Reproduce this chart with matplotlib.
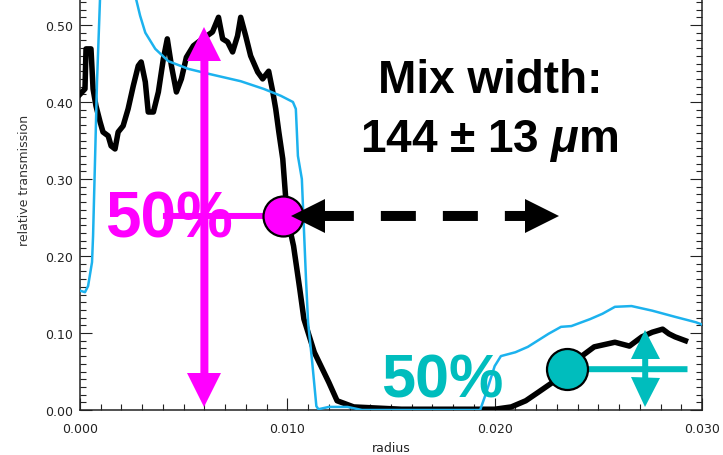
import numpy as np
import matplotlib as mpl
import matplotlib.pyplot as plt
from matplotlib import transforms as mtransforms

mpl.rcParams.update(
    {
        "font.family": "DejaVu Sans",
        "mathtext.fontset": "custom",
        "mathtext.it": "Liberation Sans:italic:bold",
        "mathtext.rm": "Liberation Sans:bold",
        "mathtext.bf": "Liberation Sans:bold",
    }
)

# ---------------------------------------------------------------------------
# Data
# ---------------------------------------------------------------------------
# measured profile (thick black)
black_r = [0.0000, 0.00024, 0.00029, 0.00053, 0.00063, 0.00077, 0.00097, 0.00111,
           0.00136, 0.00150, 0.00169, 0.00184, 0.00208, 0.00232, 0.00257, 0.00281,
           0.00295, 0.00315, 0.00329, 0.00354, 0.00378, 0.00402, 0.00421, 0.00441,
           0.00465, 0.00489, 0.00513, 0.00547, 0.00581, 0.00639, 0.00668, 0.00688,
           0.00712, 0.00736, 0.00760, 0.00775, 0.00799, 0.00823, 0.00857, 0.00881,
           0.00910, 0.00930, 0.00944, 0.00959, 0.00978, 0.0099, 0.0100, 0.0103,
           0.0106, 0.0108, 0.0113, 0.0120, 0.0124, 0.0132, 0.0155, 0.0200,
           0.0208, 0.0215, 0.0221, 0.0228, 0.0235, 0.0242, 0.0248, 0.0258,
           0.0265, 0.0271, 0.0276, 0.0281, 0.0284, 0.0287, 0.0292]
black_t = [0.410, 0.417, 0.469, 0.469, 0.417, 0.395, 0.374, 0.361,
           0.356, 0.343, 0.339, 0.361, 0.369, 0.391, 0.421, 0.447,
           0.452, 0.426, 0.387, 0.387, 0.413, 0.456, 0.482, 0.447,
           0.413, 0.430, 0.458, 0.473, 0.480, 0.491, 0.510, 0.482,
           0.478, 0.465, 0.486, 0.510, 0.486, 0.460, 0.439, 0.430,
           0.440, 0.413, 0.391, 0.361, 0.326, 0.283, 0.250, 0.213,
           0.157, 0.118, 0.075, 0.036, 0.012, 0.004, 0.001, 0.001,
           0.004, 0.012, 0.023, 0.036, 0.053, 0.070, 0.082, 0.088,
           0.083, 0.095, 0.101, 0.105, 0.099, 0.095, 0.090]

# model profile (thin blue)
cyan_r = [0.0000, 0.00024, 0.00039, 0.00058, 0.00063, 0.00073, 0.00082, 0.00092,
          0.0010, 0.0012, 0.0022, 0.0029, 0.00315, 0.00363, 0.00426, 0.00523,
          0.0063, 0.00775, 0.00886, 0.00969, 0.01027, 0.01041, 0.01046, 0.01051,
          0.0107, 0.0108, 0.0109, 0.0110, 0.0112, 0.0114, 0.0115, 0.0120,
          0.0129, 0.0136, 0.0193, 0.0196, 0.0200, 0.0203, 0.0210, 0.0216,
          0.0226, 0.0232, 0.0237, 0.0246, 0.0252, 0.0258, 0.0266, 0.0276,
          0.0287, 0.0297, 0.0301]
cyan_t = [0.155, 0.153, 0.161, 0.192, 0.226, 0.330, 0.426, 0.500,
          0.560, 0.590, 0.590, 0.512, 0.490, 0.469, 0.453, 0.443,
          0.436, 0.427, 0.417, 0.408, 0.400, 0.391, 0.361, 0.330,
          0.300, 0.235, 0.170, 0.114, 0.062, 0.005, 0.001, 0.004,
          0.004, 0.000, 0.000, 0.023, 0.057, 0.070, 0.075, 0.082,
          0.099, 0.108, 0.109, 0.118, 0.125, 0.134, 0.135, 0.129,
          0.121, 0.114, 0.110]

x_ticks = [0.000, 0.010, 0.020, 0.030]
y_ticks = [0.00, 0.10, 0.20, 0.30, 0.40, 0.50]

# annotation anchors (data coords)
inner_50 = (0.00978, 0.252)     # 50% point on the inner edge
outer_50 = (0.02349, 0.053)     # 50% point on the outer edge
inner_span = (0.0060, 0.004, 0.497)
outer_span = (0.02726, 0.004, 0.105)
width_arrow = (0.01017, 0.0231)

MAGENTA = "#ff00ff"
TEAL = "#00bdbd"
SKY = "#1cb2ee"
PX = 72 / 100  # points per pixel

# ---------------------------------------------------------------------------
# Plot
# ---------------------------------------------------------------------------
fig = plt.figure(figsize=(7.23, 4.56), dpi=100)
ax = fig.add_axes([80 / 723, 45 / 456, 622 / 723, 462 / 456])

ax.plot(black_r, black_t, color="black", lw=5.5 * PX, zorder=3)
ax.plot(cyan_r, cyan_t, color=SKY, lw=2.5 * PX, zorder=4)

ax.set_xlim(0, 0.030)
ax.set_ylim(0, 0.60)
ax.set_xticks(x_ticks)
ax.set_yticks(y_ticks)
ax.xaxis.set_major_formatter(mpl.ticker.FormatStrFormatter("%.3f"))
ax.yaxis.set_major_formatter(mpl.ticker.FormatStrFormatter("%.2f"))
ax.xaxis.set_minor_locator(mpl.ticker.MultipleLocator(0.001))
ax.yaxis.set_minor_locator(mpl.ticker.MultipleLocator(0.01))
ax.tick_params(which="both", direction="in", top=True, right=True,
               colors="#222222", labelsize=9, width=0.8)
ax.tick_params(which="major", length=12 * PX)
ax.tick_params(which="minor", length=6 * PX)
ax.tick_params(axis="x", pad=9)
ax.tick_params(axis="y", pad=5)
for s in ax.spines.values():
    s.set_linewidth(1.1)
    s.set_color("#222222")

ax.set_xlabel("radius", fontsize=9, color="#222222")
ax.set_ylabel("relative transmission", fontsize=9, color="#333333")
ax.xaxis.set_label_coords(0.5, -0.068)
ax.yaxis.set_label_coords(-0.079, 0.5)
fig.text(0.26, 1.012, "(microns)", fontsize=8, color="#b0b0b0", ha="center", va="center")


def head(x, y, marker, color, size_px):
    ms = size_px * PX
    dx = {"<": ms / 2, ">": -ms / 2}.get(marker, 0)
    dy = {"^": -ms / 2, "v": ms / 2}.get(marker, 0)
    tr = mtransforms.offset_copy(ax.transData, fig=fig, x=dx, y=dy, units="points")
    ax.plot([x], [y], marker=marker, ms=ms, color=color, mew=0,
            transform=tr, zorder=8, clip_on=False)


def shaft(x0, y0, x1, y1, color, lw_px, shrink_a=0, shrink_b=0, ls="-"):
    ax.annotate("", xy=(x1, y1), xytext=(x0, y0),
                arrowprops=dict(arrowstyle="-", color=color, lw=lw_px * PX,
                                shrinkA=shrink_a * PX, shrinkB=shrink_b * PX,
                                linestyle=ls, capstyle="butt"),
                zorder=6)


# inner edge (magenta)
x, y0, y1 = inner_span
shaft(x, y0, x, y1, MAGENTA, 8, 20, 20)
head(x, y1, "^", MAGENTA, 34)
head(x, y0, "v", MAGENTA, 34)
shaft(0.0040, inner_50[1], inner_50[0], inner_50[1], MAGENTA, 6)
ax.plot(*inner_50, "o", ms=40 * PX, mfc=MAGENTA, mec="black", mew=1.6, zorder=7)
ax.text(0.00121, 0.225, "50%", color=MAGENTA, fontsize=46, fontweight="bold",
        family="Liberation Sans", ha="left", va="baseline", zorder=6)

# mix width arrow (black dashed)
xa, xb = width_arrow
on, off = 35 / 10, 27 / 10
shaft(xa, inner_50[1], xb, inner_50[1], "black", 10, 28, 30, ls=(0, (on, off)))
head(xa, inner_50[1], "<", "black", 34)
head(xb, inner_50[1], ">", "black", 34)

# outer edge (teal)
x, y0, y1 = outer_span
shaft(outer_50[0], outer_50[1], 0.0293, outer_50[1], TEAL, 6)
shaft(x, y0, x, y1, TEAL, 6, 18, 18)
head(x, y1, "^", TEAL, 29)
head(x, y0, "v", TEAL, 29)
ax.plot(*outer_50, "o", ms=41 * PX, mfc=TEAL, mec="black", mew=1.6, zorder=7)
ax.text(0.01453, 0.018, "50%", color=TEAL, fontsize=44, fontweight="bold",
        family="Liberation Sans", ha="left", va="baseline", zorder=6)

# result text
ax.text(0.01976, 0.413, "Mix width:", fontsize=33, fontweight="bold",
        family="Liberation Sans", ha="center", va="baseline", zorder=6)
ax.text(0.01976, 0.336, r"144 ± 13 $\mu$m", fontsize=33, fontweight="bold",
        family="Liberation Sans", ha="center", va="baseline", zorder=6)

fig.savefig("out.png", dpi=100)
plt.close(fig)
